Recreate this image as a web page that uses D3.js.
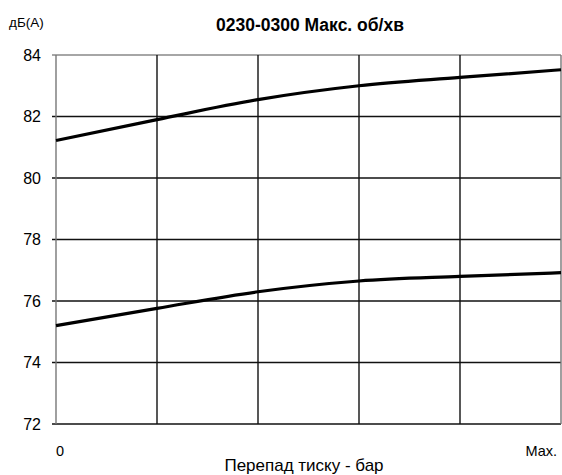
<!DOCTYPE html>
<html>
<head>
<meta charset="utf-8">
<script src="https://cdn.jsdelivr.net/npm/d3@7"></script>
<style>
  body { margin: 0; background: #fff; }
  text { font-family: "Liberation Sans", Arial, sans-serif; fill: #000; }
</style>
</head>
<body>
<div id="chart"></div>
<script>
(function(){
  var width = 562;
  var height = 475;
  var margin = {top: 55, right: 1, bottom: 51, left: 56};

  // data
  var steps = [0, 1, 2, 3, 4, 5];
  var upperSeries = [81.22, 81.9, 82.55, 83.0, 83.27, 83.52];
  var lowerSeries = [75.2, 75.76, 76.3, 76.65, 76.8, 76.92];
  var yTicks = [72, 74, 76, 78, 80, 82, 84];
  var xTickLabels = ['0', 'Max.'];

  var svg = d3.select('#chart').append('svg')
                .attr('width', width)
                .attr('height', height);

  var x = d3.scaleLinear()
            .domain([0, 5])
            .range([margin.left, width - margin.right]);
  var y = d3.scaleLinear()
            .domain([72, 84])
            .range([height - margin.bottom, margin.top]);

  // horizontal grid
  svg.append('g')
      .selectAll('line')
      .data(yTicks)
      .enter()
      .append('line')
        .attr('x1', margin.left - 4)
        .attr('x2', width - margin.right)
        .attr('y1', function(d){ return y(d); })
        .attr('y2', function(d){ return y(d); })
        .attr('stroke', function(d){ return d === 84 ? '#888' : '#111'; })
        .attr('stroke-width', 1.3);

  // vertical grid
  svg.append('g')
      .selectAll('line')
      .data(steps)
      .enter()
      .append('line')
        .attr('x1', function(d){ return x(d); })
        .attr('x2', function(d){ return x(d); })
        .attr('y1', y(84))
        .attr('y2', y(72))
        .attr('stroke', function(d){ return (d === 0 || d === 5) ? '#777' : '#111'; })
        .attr('stroke-width', 1.4);

  // y axis labels
  svg.append('g')
      .selectAll('text')
      .data(yTicks)
      .enter()
      .append('text')
        .text(function(d){ return d; })
        .attr('x', margin.left - 15)
        .attr('y', function(d){ return y(d) + 5.5; })
        .attr('text-anchor', 'end')
        .attr('font-size', '16px');

  // x labels
  svg.append('text').text(xTickLabels[0])
      .attr('x', x(0)).attr('y', 456)
      .attr('font-size', '14.5px');
  svg.append('text').text(xTickLabels[1])
      .attr('x', x(5) - 4).attr('y', 456)
      .attr('text-anchor', 'end')
      .attr('font-size', '14.5px');

  var line = d3.line()
      .x(function(d, i){ return x(steps[i]); })
      .y(function(d){ return y(d); })
      .curve(d3.curveMonotoneX);

  [upperSeries, lowerSeries].forEach(function(s){
    svg.append('path')
        .attr('d', line(s))
        .attr('fill', 'none')
        .attr('stroke', '#000')
        .attr('stroke-width', 3.2);
  });

  svg.append('text').text('дБ(А)')
      .attr('x', 9).attr('y', 27)
      .attr('font-size', '13.5px');

  svg.append('text').text('0230-0300 Макс. об/хв')
      .attr('x', 310).attr('y', 31)
      .attr('text-anchor', 'middle')
      .attr('font-weight', 'bold')
      .attr('font-size', '17.5px');

  svg.append('text').text('Перепад тиску - бар')
      .attr('x', 304).attr('y', 471)
      .attr('text-anchor', 'middle')
      .attr('font-size', '17px');
})();
</script>
</body>
</html>
